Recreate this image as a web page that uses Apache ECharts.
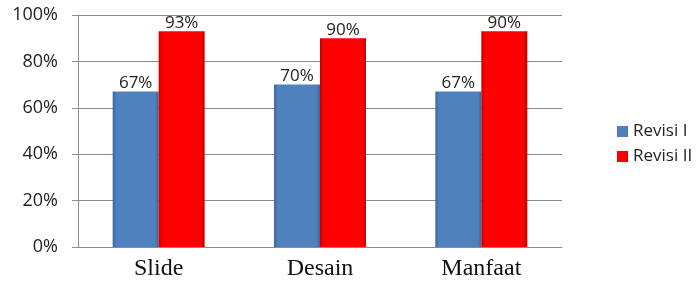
<!DOCTYPE html>
<html>
<head>
<meta charset="utf-8">
<script src="https://cdn.jsdelivr.net/npm/echarts@6/dist/echarts.min.js"></script>
<style>
html,body{margin:0;padding:0;background:#fff;}
#chartDom{width:696px;height:287px;}
</style>
</head>
<body>
<div id="chartDom"></div>
<script>
// data
var categories = ['Slide', 'Desain', 'Manfaat'];
var revisi1 = [67, 70, 67];
var revisi2 = [93, 90, 93];
// the printed labels (Manfaat's red bar is drawn taller than its label says)
var revisi1Labels = ['67%', '70%', '67%'];
var revisi2Labels = ['93%', '90%', '90%'];
var yTicks = [0, 20, 40, 60, 80, 100];

var chartDom = document.getElementById('chartDom');
var myChart = echarts.init(chartDom);

// slight bevel on the bar edges
function bevel(base, dark) {
  return new echarts.graphic.LinearGradient(0, 0, 1, 0, [
    { offset: 0, color: dark },
    { offset: 0.08, color: base },
    { offset: 0.92, color: base },
    { offset: 1, color: dark }
  ]);
}

var option = {
  animation: false,
  grid: { left: 78, right: 134, top: 15, bottom: 40 },
  legend: {
    orient: 'vertical',
    left: 612,
    top: 118,
    itemWidth: 11,
    itemHeight: 11,
    itemGap: 8,
    icon: 'rect',
    textStyle: { fontFamily: 'Open Sans', fontSize: 17, color: '#222' },
    data: ['Revisi I', 'Revisi II']
  },
  xAxis: {
    type: 'category',
    data: categories,
    axisLine: { lineStyle: { color: '#8c8c8c' } },
    axisTick: { show: false },
    axisLabel: { fontFamily: 'Liberation Serif', fontSize: 24, color: '#111', margin: 10 }
  },
  yAxis: {
    type: 'value',
    min: yTicks[0],
    max: yTicks[yTicks.length - 1],
    interval: 20,
    axisLine: { show: true, lineStyle: { color: '#8c8c8c' } },
    axisTick: { show: true, length: 6, lineStyle: { color: '#8c8c8c' } },
    axisLabel: { formatter: '{value}%', fontFamily: 'Open Sans', fontSize: 18, color: '#222', margin: 20 },
    splitLine: { lineStyle: { color: '#8c8c8c', width: 1 } }
  },
  series: [
    {
      name: 'Revisi I',
      type: 'bar',
      data: revisi1,
      barGap: '0%',
      barCategoryGap: '43%',
      itemStyle: { color: bevel('#4f81bd', '#3b6597') },
      label: {
        show: true, position: 'top', distance: 0,
        fontFamily: 'Open Sans', fontSize: 17, color: '#222',
        formatter: function (p) { return revisi1Labels[p.dataIndex]; }
      }
    },
    {
      name: 'Revisi II',
      type: 'bar',
      data: revisi2,
      itemStyle: { color: bevel('#ff0000', '#c00000') },
      label: {
        show: true, position: 'top', distance: 0,
        fontFamily: 'Open Sans', fontSize: 17, color: '#222',
        formatter: function (p) { return revisi2Labels[p.dataIndex]; }
      }
    }
  ]
};
option && myChart.setOption(option);
</script>
</body>
</html>
